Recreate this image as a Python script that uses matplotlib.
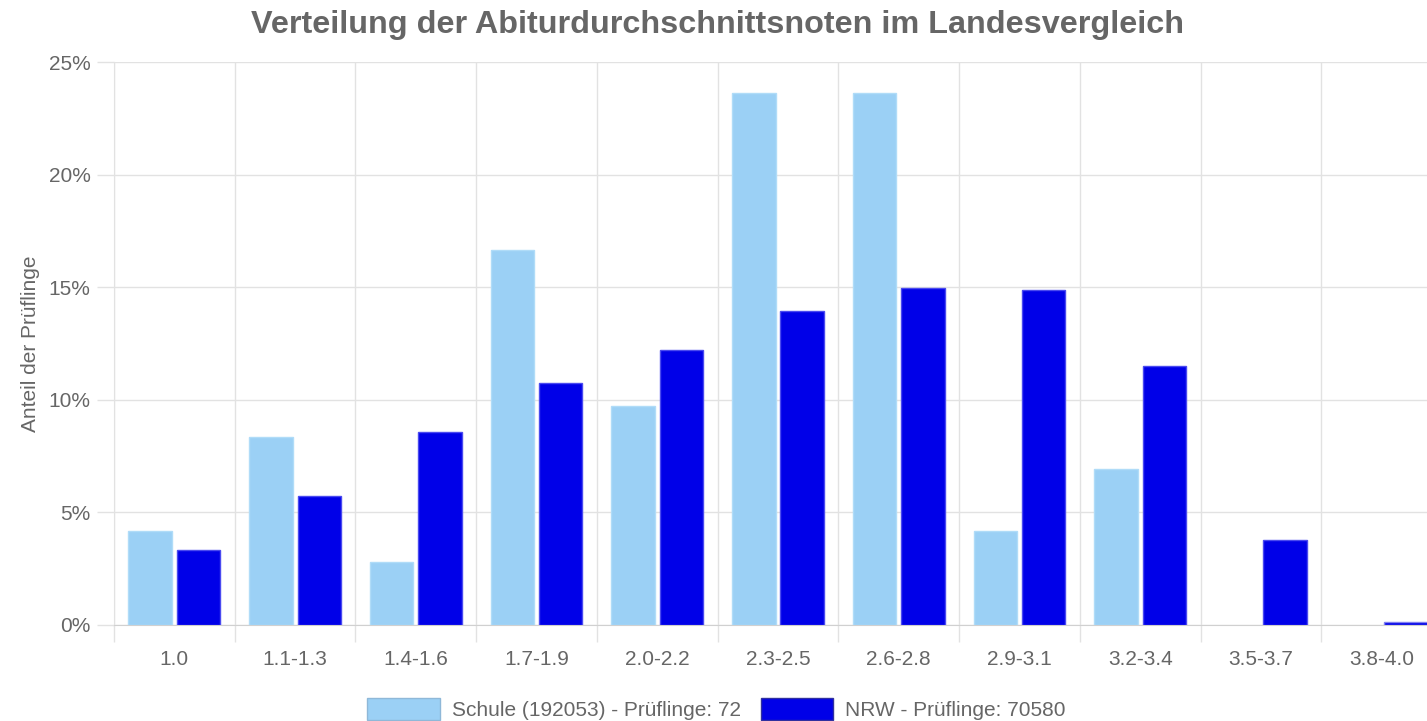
import matplotlib.pyplot as plt
import numpy as np
from matplotlib.patches import Patch

# Notenstufen und Anteile (in %)
categories = ["1.0", "1.1-1.3", "1.4-1.6", "1.7-1.9", "2.0-2.2", "2.3-2.5",
              "2.6-2.8", "2.9-3.1", "3.2-3.4", "3.5-3.7", "3.8-4.0"]
schule = [4.17, 8.33, 2.78, 16.67, 9.72, 23.61, 23.61, 4.17, 6.94, 0.0, 0.0]
nrw = [3.33, 5.73, 8.57, 10.75, 12.2, 13.94, 14.97, 14.88, 11.5, 3.77, 0.13]

label_schule = "Schule (192053) - Prüflinge: 72"
label_nrw = "NRW - Prüflinge: 70580"

plt.rcParams['font.family'] = ['Liberation Sans', 'DejaVu Sans']

light = '#9bd0f5'
dark = '#0000e8'
grid_col = '#e2e2e2'
text_col = '#666666'

fig = plt.figure(figsize=(14.27, 7.21), dpi=100)
# Plotbereich rechts leicht abgeschnitten wie im Original
ax = fig.add_axes([114 / 1427, 1 - 625 / 721, 1328 / 1427, 563 / 721])

x = np.arange(len(categories))
w = 0.36
# keine Randlinie bei Balken mit Hoehe 0
ax.bar(x - 0.2, schule, w, color=light, zorder=3,
       edgecolor=['#b0dcf8' if v > 0 else 'none' for v in schule], linewidth=1)
ax.bar(x + 0.2, nrw, w, color=dark, zorder=3,
       edgecolor=['#4a4af0' if v > 0.5 else '#8080f0' if v > 0 else 'none' for v in nrw], linewidth=1)

ax.set_xlim(-0.5, len(categories) - 0.5)
ax.set_ylim(0, 25)
ax.set_yticks(range(0, 26, 5))
ax.set_yticklabels([f"{v}%" for v in range(0, 26, 5)])
ax.set_xticks(x)
ax.set_xticklabels(categories)

# Gitter: vertikale Linien zwischen den Kategorien
ax.set_xticks(np.arange(-0.5, len(categories), 1), minor=True)
ax.grid(True, which='minor', axis='x', color=grid_col, linewidth=1, zorder=0)
ax.grid(True, which='major', axis='y', color=grid_col, linewidth=1, zorder=0)
ax.tick_params(axis='x', which='major', length=0, pad=18, labelsize=15, labelcolor=text_col)
ax.tick_params(axis='x', which='minor', length=12, color=grid_col, width=1)
ax.tick_params(axis='y', length=12, color=grid_col, width=1, pad=5, labelsize=15, labelcolor=text_col)

for s in ['top', 'right']:
    ax.spines[s].set_visible(False)
ax.spines['left'].set_color(grid_col)
ax.spines['bottom'].set_color('#d0d0d0')

ax.set_ylabel("Anteil der Prüflinge", color=text_col, fontsize=15, labelpad=6)

fig.text(0.503, 1 - 33 / 721, "Verteilung der Abiturdurchschnittsnoten im Landesvergleich",
         ha='center', va='baseline', fontsize=23.3, fontweight='bold', color=text_col)

handles = [Patch(facecolor=light, edgecolor='#8fb8d8', linewidth=1),
           Patch(facecolor=dark, edgecolor='#3030a0', linewidth=1)]
fig.legend(handles, [label_schule, label_nrw], loc='center', bbox_to_anchor=(0.502, 1 - 709 / 721),
           ncol=2, frameon=False, fontsize=15, handlelength=3.46, handleheight=1.25,
           handletextpad=0.58, columnspacing=0.96, labelcolor=text_col)

fig.savefig("out.png", dpi=100)
